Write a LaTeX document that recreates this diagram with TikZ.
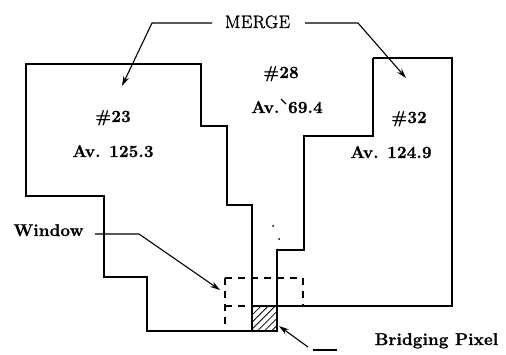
\documentclass[tikz,border=0pt]{standalone}
\usepackage{fontspec}
\newfontfamily\lsbfont[LetterSpace=1,FakeBold=1.2]{Latin Modern Roman}
\newfontfamily\lsmfont[LetterSpace=3,FakeBold=1.5]{Latin Modern Roman}
\usetikzlibrary{arrows.meta,patterns.meta}
\begin{document}
\begin{tikzpicture}[x=1pt,y=-1pt,
  region/.style={line width=1.6pt},
  win/.style={line width=1.5pt, dash pattern=on 7pt off 6pt},
  conn/.style={line width=1.1pt},
  arr/.style={conn, -{Stealth[length=10pt,width=6pt]}},
  lbl/.style={inner sep=0pt, anchor=base, font=\lsbfont\bfseries\fontsize{17}{20}\selectfont},
  mlbl/.style={inner sep=0pt, anchor=base, font=\lsmfont\fontsize{18}{21}\selectfont},
  hatch/.style={pattern={Lines[angle=45,distance=5pt,line width=0.8pt]}}
]
\path[use as bounding box] (0,0) rectangle (506,355);

% region #23
\draw[region] (26,64) -- (201,64) -- (201,126) -- (227,126) -- (227,205) -- (252,205) -- (252,331)
  -- (147,331) -- (147,277) -- (104,277) -- (104,196) -- (26,196) -- cycle;
% region #32
\draw[region] (373,58) -- (452,58) -- (452,306) -- (252,306);
\draw[region] (373,58) -- (373,136) -- (304,136) -- (304,250) -- (277,250) -- (277,331) -- (252,331);

% bridging pixel
\path[hatch] (253,307) rectangle (276,330);

% window
\draw[win] (225,278) -- (225,331);
\draw[win] (225,278) -- (303,278) -- (303,306);
\draw[win] (225,306) -- (252,306);

% stray marks
\fill (273,226) circle (1pt);
\fill (279,239) circle (1pt);

% labels
\node[mlbl] (merge) at (257.5,28) {MERGE};
\node[lbl] (n23) at (113,122) {\#23};
\node[lbl] (a23) at (113,157) {Av. 125.3};
\node[lbl] (n28) at (281,78) {\#28};
\node[lbl] (a28) at (287,113) {Av. 69.4};
\node[lbl] (n32) at (409,123) {\#32};
\node[lbl] (a32) at (391,158) {Av. 124.9};
\node[lbl] (window) at (48.5,236) {Window};
\node[lbl] (bridge) at (436.5,345) {Bridging Pixel};

\draw[conn] (281,99) -- (286,104);

% connectors
\coordinate (ml) at (152,23);
\coordinate (mlt) at (122,86);
\coordinate (mr) at (358,23);
\coordinate (mrt) at (406,78);
\draw[arr] (212,23) -- (ml) -- (mlt);
\draw[arr] (305,23) -- (mr) -- (mrt);

\coordinate (ws) at (95,234);
\coordinate (wk) at (139,234);
\coordinate (wt) at (220,290);
\draw[arr] (ws) -- (wk) -- (wt);

\coordinate (bs) at (308,347);
\coordinate (bt) at (279,326);
\coordinate (bd1) at (313,350);
\coordinate (bd2) at (337,350);
\draw[arr] (bs) -- (bt);
\draw[conn] (bd1) -- (bd2);
\end{tikzpicture}
\end{document}
